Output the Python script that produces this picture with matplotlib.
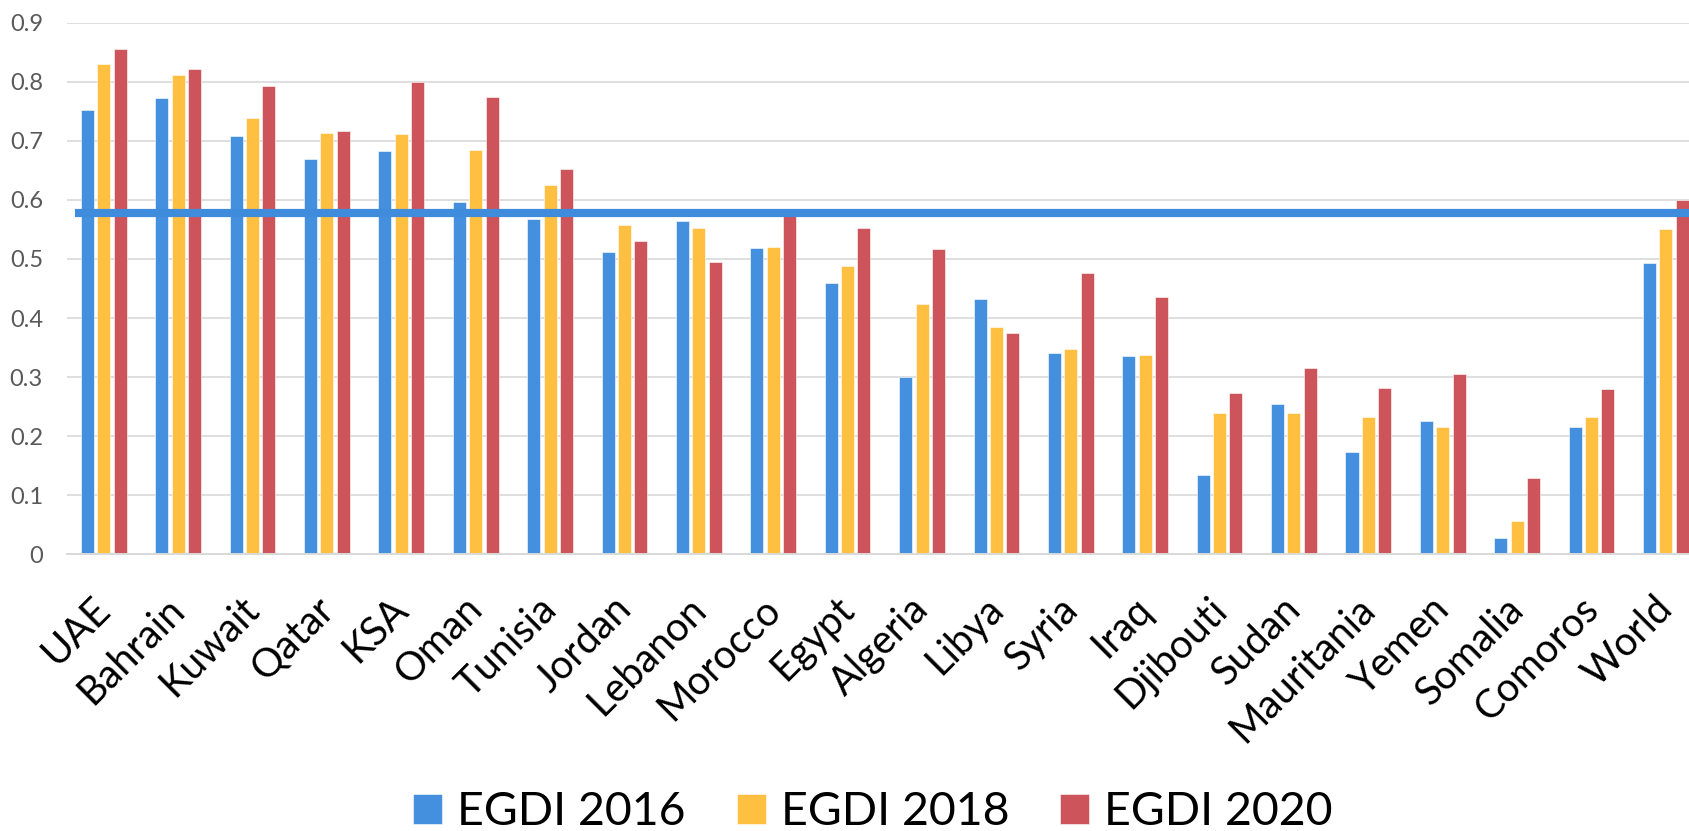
import matplotlib
matplotlib.use("Agg")
import matplotlib.pyplot as plt
import matplotlib.transforms as mtransforms
import numpy as np

countries = ["UAE", "Bahrain", "Kuwait", "Qatar", "KSA", "Oman", "Tunisia", "Jordan",
             "Lebanon", "Morocco", "Egypt", "Algeria", "Libya", "Syria", "Iraq",
             "Djibouti", "Sudan", "Mauritania", "Yemen", "Somalia", "Comoros", "World"]
egdi_2016 = [0.752, 0.773, 0.708, 0.670, 0.682, 0.596, 0.568, 0.512, 0.565, 0.519, 0.459,
             0.301, 0.432, 0.340, 0.335, 0.135, 0.255, 0.174, 0.225, 0.027, 0.216, 0.493]
egdi_2018 = [0.830, 0.811, 0.739, 0.713, 0.712, 0.685, 0.625, 0.558, 0.553, 0.521, 0.488,
             0.423, 0.384, 0.347, 0.338, 0.240, 0.240, 0.232, 0.216, 0.057, 0.233, 0.550]
egdi_2020 = [0.855, 0.822, 0.792, 0.717, 0.799, 0.775, 0.653, 0.530, 0.495, 0.575, 0.553,
             0.517, 0.375, 0.477, 0.435, 0.273, 0.316, 0.282, 0.305, 0.130, 0.280, 0.599]
series_labels = ["EGDI 2016", "EGDI 2018", "EGDI 2020"]
arab_average = 0.578
y_ticks = [0, 0.1, 0.2, 0.3, 0.4, 0.5, 0.6, 0.7, 0.8, 0.9]

colors = ["#4590DE", "#FFBF40", "#CE545C"]
FONT = ["Lato", "DejaVu Sans"]
plt.rcParams["font.family"] = FONT

fig = plt.figure(figsize=(16.89, 8.31), dpi=100)
ax = fig.add_axes([66.5 / 1689, 1 - 554.3 / 831, 1 - 66.5 / 1689, (554.3 - 22.7) / 831])

x = np.arange(len(countries))
width = 0.175
offset = 0.22
for i, (vals, lab) in enumerate(zip([egdi_2016, egdi_2018, egdi_2020], series_labels)):
    ax.bar(x + (i - 1) * offset, vals, width, color=colors[i], label=lab,
           edgecolor="white", linewidth=0.4, zorder=2)

ax.plot([-0.39, len(countries)], [arab_average, arab_average], color="#3F8CDC",
        linewidth=5.9, solid_capstyle="butt", zorder=3)

ax.set_xlim(-0.5, 21.31)
ax.set_ylim(0, 0.9)
ax.set_yticks(y_ticks)
ax.set_yticklabels([("%g" % v) for v in y_ticks])
ax.yaxis.grid(True, color="#D9D9D9", linewidth=1.2, zorder=0)
ax.set_axisbelow(True)
for s in ["top", "right", "left"]:
    ax.spines[s].set_visible(False)
ax.spines["bottom"].set_color("#D9D9D9")
ax.spines["bottom"].set_linewidth(1.4)
ax.tick_params(axis="y", length=0, pad=17, labelsize=17, labelcolor="#595959")
ax.tick_params(axis="x", length=0, pad=0, labelsize=28.5)

ax.set_xticks(x)
ax.set_xticklabels(countries, rotation=45, ha="right", va="baseline", rotation_mode="anchor")
off = mtransforms.ScaledTranslation(9 / 100, -57 / 100, fig.dpi_scale_trans)
for lbl in ax.get_xticklabels():
    lbl.set_transform(lbl.get_transform() + off)

leg = fig.legend(loc="center", bbox_to_anchor=(873 / 1689, 1 - 812 / 831), ncol=3,
                 frameon=False, fontsize=33.5, handlelength=0.62, handleheight=0.62,
                 handletextpad=0.32, columnspacing=1.1, borderaxespad=0)

fig.savefig("out.png", dpi=100)
